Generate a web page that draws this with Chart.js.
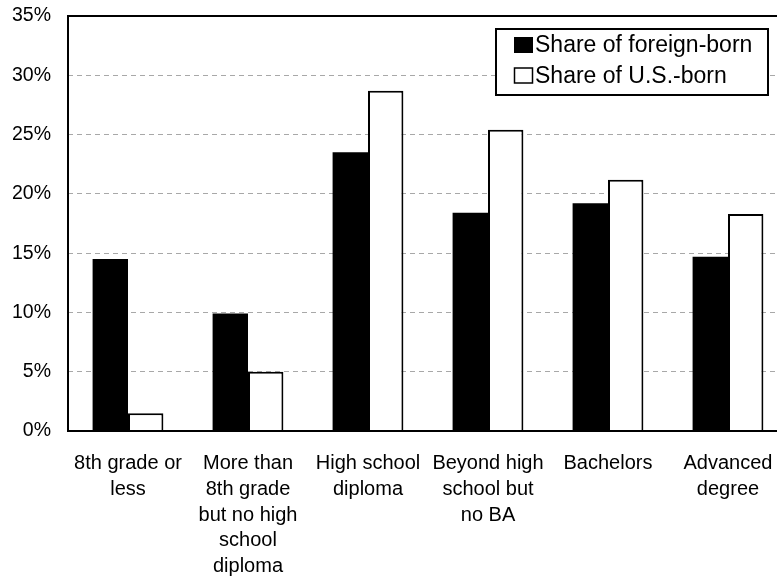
<!DOCTYPE html>
<html>
<head>
<meta charset="utf-8">
<script src="https://cdn.jsdelivr.net/npm/chart.js@4/dist/chart.umd.min.js"></script>
<style>
  html, body { margin: 0; padding: 0; background: #ffffff; overflow: hidden; }
  #wrap { width: 777px; height: 576px; overflow: hidden; position: relative; }
  canvas { display: block; }
</style>
</head>
<body>
<div id="wrap"><canvas id="c" width="790" height="576"></canvas></div>
<script>
const categories = [
  ["8th grade or", "less"],
  ["More than", "8th grade", "but no high", "school", "diploma"],
  ["High school", "diploma"],
  ["Beyond high", "school but", "no BA"],
  ["Bachelors"],
  ["Advanced", "degree"]
];
const seriesNames = ["Share of foreign-born", "Share of U.S.-born"];
const foreignBorn = [14.5, 9.9, 23.5, 18.4, 19.2, 14.7];
const usBorn = [1.5, 5.0, 28.7, 25.4, 21.2, 18.3];
const yTicks = [0, 5, 10, 15, 20, 25, 30, 35];

const FONT = "'Liberation Sans', Arial, Helvetica, sans-serif";

const framePlugin = {
  id: 'frame',
  afterDraw(chart) {
    const { ctx, chartArea: a } = chart;
    ctx.save();
    ctx.setLineDash([]);
    ctx.strokeStyle = '#000';
    ctx.lineWidth = 2;
    ctx.strokeRect(a.left, a.top, a.right - a.left, a.bottom - a.top);
    // legend box
    const lx = 496, ly = 29, lw = 272, lh = 66;
    ctx.fillStyle = '#fff';
    ctx.fillRect(lx, ly, lw, lh);
    ctx.strokeRect(lx, ly, lw, lh);
    ctx.font = "23px " + FONT;
    ctx.textBaseline = 'middle';
    ctx.textAlign = 'left';
    const rows = [45, 75.5];
    chart.data.datasets.forEach((ds, i) => {
      const cy = rows[i];
      ctx.fillStyle = ds.backgroundColor;
      ctx.fillRect(514, cy - 8, 19, 16);
      if (ds.backgroundColor !== '#000000') {
        ctx.lineWidth = 1.5;
        ctx.strokeStyle = '#000';
        ctx.strokeRect(514.5, cy - 7.5, 18, 15);
      }
      ctx.fillStyle = '#000';
      ctx.fillText(ds.label, 535, cy + 1);
    });
    ctx.restore();
  }
};

new Chart(document.getElementById('c'), {
  type: 'bar',
  data: {
    labels: categories,
    datasets: [
      { label: seriesNames[0], data: foreignBorn, backgroundColor: '#000000', borderColor: '#000000', borderWidth: 0 },
      { label: seriesNames[1], data: usBorn, backgroundColor: '#ffffff', borderColor: '#000000', borderWidth: 2 }
    ]
  },
  options: {
    responsive: false,
    animation: false,
    devicePixelRatio: 1,
    layout: { padding: { top: 16, right: 2, left: 0, bottom: 0 } },
    datasets: { bar: { categoryPercentage: 0.59, barPercentage: 1.0 } },
    plugins: { legend: { display: false }, tooltip: { enabled: false } },
    scales: {
      x: {
        grid: { display: false, drawTicks: false },
        border: { display: false },
        ticks: {
          color: '#000',
          font: { family: FONT, size: 20, lineHeight: 1.28 },
          padding: 20,
          maxRotation: 0,
          autoSkip: false
        },
        afterFit(scale) { scale.height = 145; scale.paddingLeft = 0; scale.paddingRight = 0; }
      },
      y: {
        min: 0,
        max: 35,
        afterBuildTicks(scale) { scale.ticks = yTicks.map(v => ({ value: v })); },
        grid: {
          drawTicks: false,
          color: (ctx) => (ctx.tick && (ctx.tick.value === 0 || ctx.tick.value === 35)) ? 'rgba(0,0,0,0)' : '#a8a8a8',
          lineWidth: 1
        },
        border: { display: false, dash: [5, 4] },
        ticks: {
          color: '#000',
          font: { family: FONT, size: 19.5 },
          padding: 17,
          callback: (v) => v + '%'
        },
        afterFit(scale) { scale.width = 68; scale.paddingTop = 0; scale.paddingBottom = 0; }
      }
    }
  },
  plugins: [framePlugin]
});
</script>
</body>
</html>
